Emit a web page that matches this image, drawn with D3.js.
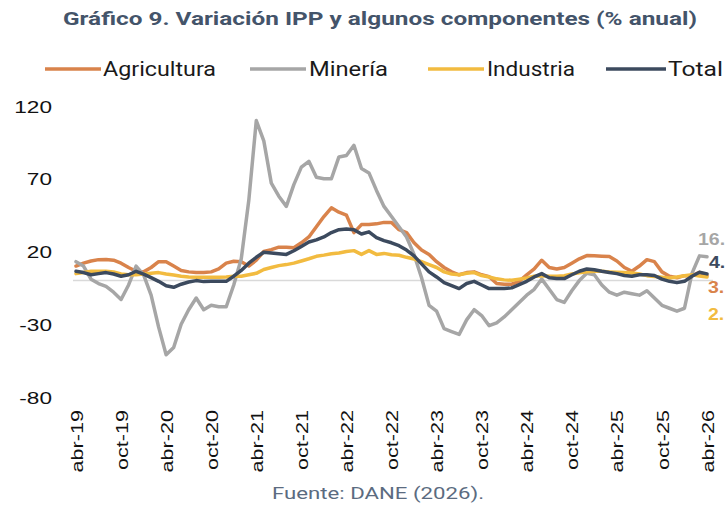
<!DOCTYPE html>
<html><head><meta charset="utf-8">
<script src="https://cdn.jsdelivr.net/npm/d3@7"></script>
<style>
html,body{margin:0;padding:0;background:#fff;}
svg{display:block;}
</style></head>
<body>
<svg id="chart" width="725" height="507"></svg>
<script>
const categories = [
"abr-19","may-19","jun-19","jul-19","ago-19","sep-19","oct-19","nov-19","dic-19","ene-20","feb-20","mar-20",
"abr-20","may-20","jun-20","jul-20","ago-20","sep-20","oct-20","nov-20","dic-20","ene-21","feb-21","mar-21",
"abr-21","may-21","jun-21","jul-21","ago-21","sep-21","oct-21","nov-21","dic-21","ene-22","feb-22","mar-22",
"abr-22","may-22","jun-22","jul-22","ago-22","sep-22","oct-22","nov-22","dic-22","ene-23","feb-23","mar-23",
"abr-23","may-23","jun-23","jul-23","ago-23","sep-23","oct-23","nov-23","dic-23","ene-24","feb-24","mar-24",
"abr-24","may-24","jun-24","jul-24","ago-24","sep-24","oct-24","nov-24","dic-24","ene-25","feb-25","mar-25",
"abr-25","may-25","jun-25","jul-25","ago-25","sep-25","oct-25","nov-25","dic-25","ene-26","feb-26","mar-26",
"abr-26"];

const tickLabels = ["abr-19","oct-19","abr-20","oct-20","abr-21","oct-21","abr-22","oct-22","abr-23","oct-23","abr-24","oct-24","abr-25","oct-25","abr-26"];
const yTicks = [-80, -30, 20, 70, 120];

const agricultura = [10,12,13.5,14.4,14.5,14,12,9,6.4,6,9,13,13,10,7,6,5.5,5.5,6,8,12,13.3,13,10,
 14,20,21.3,23,23,22.6,26,30,37,44,50,47,45,33,38.5,38.5,39,40,40,35,33,26,21,18,
 13,9,6,4,5.5,6,4,2.7,-2,-2.5,-2.5,-0.5,4,8,14,9,8,9,12,15,17.2,17,16.7,16.5,
 13.5,9,6.4,10,14.4,13,6,3,2,3.4,3.4,5.7,3.4];
const mineria = [13,10,1,-2,-4,-8,-13,-3,10,4,-10,-32,-51,-46,-30,-20,-12,-20,-17,-18,-18,-3,15,55,
 110,96,67,58,51,66,78,82,71,70,70,85,86,93,77,74,62,51,44,37,30,18,2,-17,
 -21,-33,-35,-37,-27,-20,-24,-31,-29,-25,-20,-15,-10,-6,1,-6,-13,-15,-7,0,5,4,-3,-8,
 -10,-8,-9,-10,-7,-12,-17,-19,-21,-19,5,17,16.4];
const industria = [4.8,5.6,6.4,6.4,6.4,6,4.5,4,4,4.5,5,5.5,4.5,3.8,3,2.5,2.3,2.3,2.3,2.3,2.5,3,3,4,
 5,7.6,9,10.3,11,12,13.5,15,16.7,17.5,18.5,19,20,20.6,18,20.6,18,18.7,17.8,17.4,16,14.8,13,11,
 9,6,4.5,4,5,5.5,3.5,2.5,1.2,0.5,0.2,1,1.8,3,3.4,3,3,3.4,4.5,5.3,6,6.4,6.4,6,
 5.7,5.5,5.3,4.5,3.4,2.8,2.3,1.8,2.5,3.4,4,3.2,2.5];
const total = [6.4,5.5,4,4.8,5.5,4.5,3,4,6.4,4.5,2,-0.5,-3.5,-4.6,-2.5,-1,0,-0.7,-0.5,-0.5,-0.5,3,7,12,
 16,19.5,19,18.5,18,20.5,23.5,26.5,28,30,33,35,35.5,35,32,33.5,29.6,27.5,26,24,21,17,11.5,6,
 2.5,-1.4,-3.5,-5.5,-2,-0.5,-3,-5.5,-5.5,-5.5,-5,-2.7,-0.5,2.5,4.8,2,1.5,1.4,4,6.4,8,7.5,6.4,5.5,
 4.8,3.5,3,4,4,3.5,1,-0.5,-1.4,-0.5,3,5.7,4.6];

const seriesNames = ["Agricultura","Minería","Industria","Total"];
const seriesValues = [agricultura, mineria, industria, total];
const seriesColors = ["#d9834b","#a6a6a6","#f2bb40","#3c4a5e"];
// end labels as visible in the reference (cut at the right edge there)
const endLabels = ["3.","16.","2.","4."];

const svg = d3.select("#chart");

const x = d3.scalePoint().domain(categories).range([76, 707]);
const y = d3.scaleLinear().domain([-80, 120]).range([397, 106]);

// Title
svg.append("text")
  .attr("x", 380).attr("y", 25)
  .attr("text-anchor", "middle")
  .attr("textLength", 634).attr("lengthAdjust", "spacingAndGlyphs")
  .style("font-family", "Roboto, 'Noto Sans', sans-serif")
  .style("font-weight", "700").style("font-size", "19px")
  .style("fill", "#44546a")
  .text("Gráfico 9. Variación IPP y algunos componentes (% anual)");

// Legend
const legendPos = [
  {lx1:45, lx2:101, tx:103, tw:113},
  {lx1:250, lx2:306, tx:309, tw:79},
  {lx1:428, lx2:484, tx:487, tw:88},
  {lx1:606, lx2:666, tx:668, tw:55}
];
const lg = svg.append("g");
seriesNames.forEach((name, i) => {
  const p = legendPos[i];
  lg.append("line").attr("x1", p.lx1).attr("x2", p.lx2).attr("y1", 69).attr("y2", 69)
    .attr("stroke", seriesColors[i]).attr("stroke-width", 3.5);
  lg.append("text").attr("x", p.tx).attr("y", 76)
    .attr("textLength", p.tw).attr("lengthAdjust", "spacingAndGlyphs")
    .style("font-family", "Roboto, 'Noto Sans', sans-serif")
    .style("font-size", "20px").style("fill", "#1a1a1a")
    .text(name);
});

// Y axis
const yAxis = svg.append("g").attr("transform", "translate(52,0)")
  .call(d3.axisLeft(y).tickValues(yTicks).tickSize(0).tickPadding(0).tickFormat(d => String(d)));
yAxis.select(".domain").remove();
yAxis.selectAll("text")
  .attr("x", 0).attr("dy", "0.36em")
  .attr("transform", "scale(1.33,1)")
  .style("font-family", "'Liberation Sans', Arial, sans-serif")
  .style("font-size", "17px").style("fill", "#111");

// Zero line
svg.append("line")
  .attr("x1", 73).attr("x2", 713)
  .attr("y1", y(0)).attr("y2", y(0))
  .attr("stroke", "#d9d9d9").attr("stroke-width", 1.5);

// X axis
const xAxis = svg.append("g").attr("transform", "translate(0,410)")
  .call(d3.axisBottom(x).tickValues(tickLabels).tickSize(0).tickPadding(0));
xAxis.select(".domain").remove();
xAxis.selectAll("text")
  .attr("x", 0).attr("y", 0).attr("dy", "0.36em")
  .attr("transform", "rotate(-90) scale(1.27,1)")
  .style("text-anchor", "end")
  .style("font-family", "'Liberation Sans', Arial, sans-serif")
  .style("font-size", "17px").style("fill", "#111");

// Lines
const line = d3.line()
  .x((d, i) => x(categories[i]))
  .y(d => y(d));
seriesValues.forEach((vals, i) => {
  svg.append("path").datum(vals)
    .attr("d", line)
    .attr("fill", "none")
    .attr("stroke", seriesColors[i])
    .attr("stroke-width", 3.5)
    .attr("stroke-linejoin", "round")
    .attr("stroke-linecap", "round");
});

// End labels
const endPos = [
  {x:708, y:293},
  {x:698, y:245},
  {x:708, y:320},
  {x:709, y:268}
];
seriesNames.forEach((name, i) => {
  svg.append("text")
    .attr("x", endPos[i].x).attr("y", endPos[i].y)
    .attr("transform", `translate(${endPos[i].x},0) scale(1.15,1) translate(${-endPos[i].x},0)`)
    .style("font-family", "'Liberation Sans', Arial, sans-serif")
    .style("font-weight", "700").style("font-size", "17px")
    .style("fill", seriesColors[i])
    .text(endLabels[i]);
});

// Source
svg.append("text")
  .attr("x", 378).attr("y", 499)
  .attr("text-anchor", "middle")
  .attr("textLength", 212).attr("lengthAdjust", "spacingAndGlyphs")
  .style("font-family", "Roboto, 'Noto Sans', sans-serif")
  .style("font-size", "17px").style("fill", "#5b6b80")
  .text("Fuente: DANE (2026).");
</script>
</body></html>
